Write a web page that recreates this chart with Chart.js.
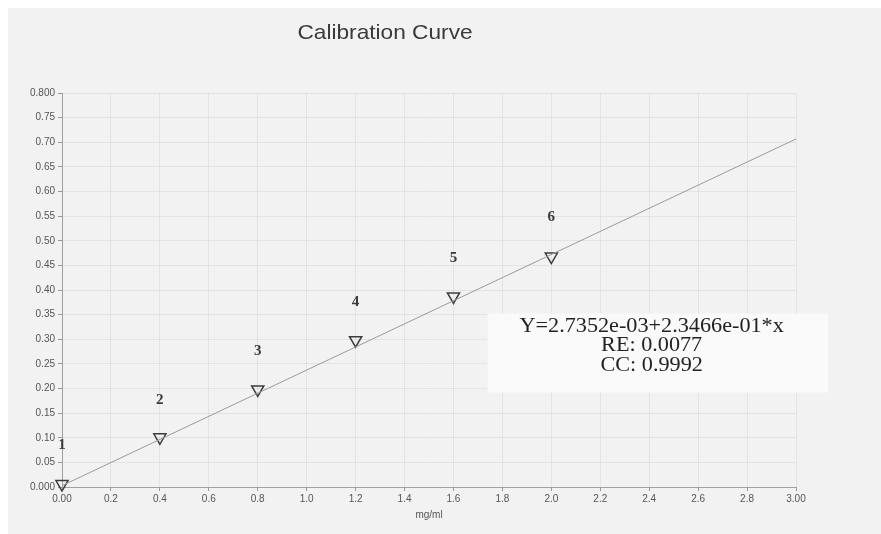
<!DOCTYPE html>
<html>
<head>
<meta charset="utf-8">
<script src="https://cdn.jsdelivr.net/npm/chart.js@4"></script>
<style>
  html, body { margin: 0; padding: 0; background: #ffffff; overflow: hidden; }
  #wrap { position: absolute; left: 8px; top: 8px; width: 873px; height: 526px; background: #f2f2f2; }
</style>
</head>
<body>
<div id="wrap"><canvas id="myChart" width="873" height="526"></canvas></div>
<script>
// standards (mg/ml vs absorbance)
const concX = [0.0, 0.4, 0.8, 1.2, 1.6, 2.0];
const absY = [0.006, 0.101, 0.198, 0.298, 0.387, 0.468];
const pointNames = ["1", "2", "3", "4", "5", "6"];
const nameY = [0.085, 0.176, 0.275, 0.375, 0.464, 0.547];

// regression line end points
const fitX = [0, 3];
const fitY = [0.0027, 0.7067];

const fitText = ["Y=2.7352e-03+2.3466e-01*x", "RE: 0.0077", "CC: 0.9992"];
const titleText = "Calibration Curve";

// the scan is a little wide, so text gets stretched sideways
function wideText(ctx, t, x, y, sx) {
  ctx.save();
  ctx.translate(x, y);
  ctx.scale(sx, 1);
  ctx.fillText(t, 0, 0);
  ctx.restore();
}

// title sits a bit left of centre on the printout
const chartTitle = {
  id: "chartTitle",
  afterDraw(chart) {
    const ctx = chart.ctx;
    ctx.save();
    ctx.font = "21px 'Liberation Sans'";
    ctx.fillStyle = "#3a3a3a";
    ctx.textAlign = "center";
    ctx.textBaseline = "middle";
    wideText(ctx, titleText, 377, 25, 1.08);
    ctx.restore();
  }
};

// labels above each standard
const numberLabels = {
  id: "numberLabels",
  afterDatasetsDraw(chart) {
    const ctx = chart.ctx;
    const xs = chart.scales.x, ys = chart.scales.y;
    ctx.save();
    ctx.font = "bold 15px 'Liberation Serif'";
    ctx.fillStyle = "#3a3a3a";
    ctx.textAlign = "center";
    ctx.textBaseline = "middle";
    pointNames.forEach((n, i) => {
      ctx.fillText(n, xs.getPixelForValue(concX[i]), ys.getPixelForValue(nameY[i]));
    });
    ctx.restore();
  }
};

// white box with the fit result
const fitBox = {
  id: "fitBox",
  afterDraw(chart) {
    const ctx = chart.ctx;
    const xs = chart.scales.x, ys = chart.scales.y;
    const left = xs.getPixelForValue(1.74);
    const right = xs.getPixelForValue(3.13);
    const top = ys.getPixelForValue(0.352);
    const bottom = ys.getPixelForValue(0.192);
    ctx.save();
    ctx.fillStyle = "#fafafa";
    ctx.fillRect(left, top, right - left, bottom - top);
    ctx.font = "20px 'Liberation Serif'";
    ctx.fillStyle = "#222222";
    ctx.textAlign = "center";
    ctx.textBaseline = "middle";
    const cx = xs.getPixelForValue(2.41);
    fitText.forEach((t, i) => {
      wideText(ctx, t, cx, top + 13 + i * 19.5, 1.11);
    });
    ctx.restore();
  }
};

var ctx = document.getElementById("myChart").getContext("2d");

var chart1 = new Chart(ctx, {
  type: "scatter",
  data: {
    datasets: [
      {
        label: "fit",
        type: "line",
        data: fitX.map((x, i) => ({ x: x, y: fitY[i] })),
        borderColor: "#9a9a9a",
        borderWidth: 1,
        pointRadius: 0,
        fill: false,
      },
      {
        label: "standards",
        data: concX.map((x, i) => ({ x: x, y: absY[i] })),
        pointStyle: "triangle",
        rotation: 180,
        radius: 7,
        borderColor: "#3c3c3c",
        borderWidth: 1.5,
        backgroundColor: "rgba(0,0,0,0)",
        clip: false,
      },
    ],
  },
  options: {
    responsive: false,
    animation: false,
    layout: { padding: { left: 0, right: 85, top: 85, bottom: 13 } },
    plugins: {
      legend: { display: false },
      tooltip: { enabled: false },
      title: { display: false },
    },
    scales: {
      x: {
        type: "linear",
        min: 0,
        max: 3,
        ticks: {
          stepSize: 0.2,
          color: "#555555",
          font: { family: "'Liberation Sans'", size: 10 },
          padding: 2,
          callback: (v) => (v === 0 || v === 3 ? v.toFixed(2) : v.toFixed(1)),
        },
        grid: { color: "rgba(0,0,0,0.06)", tickColor: "#999999", tickLength: 4 },
        border: { color: "#a0a0a0" },
        title: {
          display: true,
          text: "mg/ml",
          color: "#555555",
          font: { family: "'Liberation Sans'", size: 10 },
          padding: { top: 0, bottom: 0 },
        },
        afterFit: (s) => { s.height = 34; },
      },
      y: {
        min: 0,
        max: 0.8,
        ticks: {
          stepSize: 0.05,
          color: "#555555",
          font: { family: "'Liberation Sans'", size: 10 },
          padding: 3,
          callback: (v) => (v === 0 || Math.abs(v - 0.8) < 1e-9 ? v.toFixed(3) : v.toFixed(2)),
        },
        grid: { color: "rgba(0,0,0,0.06)", tickColor: "#999999", tickLength: 4 },
        border: { color: "#a0a0a0" },
        afterFit: (s) => { s.width = 54; },
      },
    },
  },
  plugins: [numberLabels, fitBox, chartTitle],
});
</script>
</body>
</html>
